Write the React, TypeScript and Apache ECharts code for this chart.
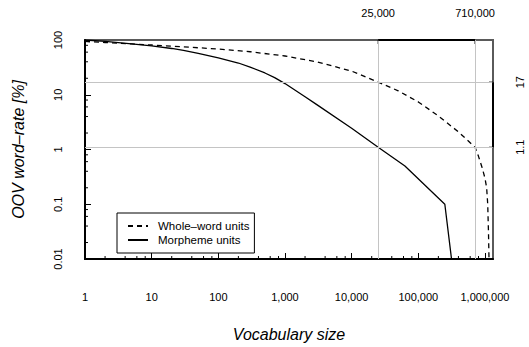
import React, { useEffect, useRef } from 'react';
import * as echarts from 'echarts';

// ---- data ----
const VOCAB_WHOLE = [1, 2, 5, 10, 30, 100, 300, 1000, 3000, 10000, 25000, 50000, 100000, 200000, 400000, 710000, 800000, 900000, 1000000, 1060000, 1100000, 1130000, 1150000];
const OOV_WHOLE = [94, 90, 85, 81, 75, 68.5, 61, 51, 40, 27, 17, 11.8, 7.4, 4.1, 2.1, 1.1, 0.75, 0.48, 0.3, 0.2, 0.1, 0.03, 0.01];

const VOCAB_MORPH = [1, 2, 5, 10, 20, 30, 50, 100, 200, 300, 500, 700, 1000, 2000, 3000, 10000, 25000, 63000, 250000, 315000];
const OOV_MORPH = [100, 94, 85, 78, 70, 64.5, 57, 47, 38, 32, 25, 20.5, 16, 9.2, 6.6, 2.45, 1.1, 0.5, 0.1, 0.01];

const SERIES_NAMES = ['Whole\u2013word units', 'Morpheme units'];

const REF_VOCAB = [25000, 710000];
const REF_OOV = [17, 1.1];

const X_MIN = 1;
const X_MAX = 1.32e6;
const Y_MIN = 0.01;
const Y_MAX = 100;
const MINOR_MULT = [2, 4, 6, 8];

const FONT = '"Liberation Sans", Arial, Helvetica, sans-serif';

function minorTicks(lo: number, hi: number): number[] {
  const out: number[] = [];
  for (let d = lo; d < hi; d *= 10) {
    for (const m of MINOR_MULT) {
      const v = d * m;
      if (v > lo && v < hi) out.push(v);
    }
  }
  return out;
}

export default function App() {
  const ref = useRef<HTMLDivElement>(null);
  useEffect(() => {
    if (!ref.current) return;
    const chart = echarts.init(ref.current, undefined, { renderer: 'svg' });
    const xMinor = minorTicks(X_MIN, X_MAX);
    const yMinor = minorTicks(Y_MIN, Y_MAX);
    const lineEl = (x1: number, y1: number, x2: number, y2: number, w = 1) => ({
      type: 'line',
      shape: { x1, y1, x2, y2 },
      style: { stroke: '#000', lineWidth: w },
    });
    const option: any = {
      animation: false,
      backgroundColor: '#fff',
      grid: {
        left: 85,
        right: 36,
        top: 40,
        bottom: 76,
        show: true,
        borderColor: '#5a5a5a',
        borderWidth: 2,
        backgroundColor: 'transparent',
      },
      legend: {
        data: SERIES_NAMES,
        orient: 'vertical',
        left: 117,
        top: 213,
        borderColor: '#000',
        borderWidth: 1,
        borderRadius: 0,
        padding: [7, 5, 7, 10],
        itemGap: 2,
        itemWidth: 20,
        itemHeight: 12,
        itemStyle: { opacity: 0 },
        textStyle: { fontSize: 11.5, fontFamily: FONT, color: '#000', padding: [0, 0, 0, 5] },
      },
      xAxis: {
        type: 'log',
        logBase: 10,
        min: X_MIN,
        max: X_MAX,
        name: 'Vocabulary size',
        nameLocation: 'middle',
        nameGap: 67,
        nameTextStyle: { fontSize: 16, fontStyle: 'italic', fontFamily: FONT, color: '#000' },
        axisLine: { show: true, onZero: false, lineStyle: { color: '#000', width: 2 } },
        axisTick: { show: true, inside: true, length: 6, lineStyle: { color: '#000', width: 1 } },
        axisLabel: {
          showMaxLabel: false,
          margin: 32,
          fontSize: 11,
          fontFamily: FONT,
          color: '#000',
          formatter: (v: number) => Math.round(v).toLocaleString('en-US'),
        },
        splitLine: { show: false },
      },
      yAxis: {
        type: 'log',
        logBase: 10,
        min: Y_MIN,
        max: Y_MAX,
        name: 'OOV word\u2013rate [%]',
        nameLocation: 'middle',
        nameGap: 59,
        nameTextStyle: { fontSize: 16, fontStyle: 'italic', fontFamily: FONT, color: '#000' },
        axisLine: { show: true, onZero: false, lineStyle: { color: '#000', width: 2 } },
        axisTick: { show: true, inside: true, length: 6, lineStyle: { color: '#000', width: 1 } },
        axisLabel: {
          rotate: 90,
          margin: 22,
          fontSize: 11,
          fontFamily: FONT,
          color: '#000',
          formatter: (v: number) => {
            const e = Math.round(Math.log10(v));
            const p = Math.pow(10, e);
            return e >= 0 ? String(p) : p.toFixed(-e);
          },
        },
        splitLine: { show: false },
      },
      series: [
        {
          // reference grid lines
          type: 'custom',
          name: 'refgrid',
          z: 1,
          silent: true,
          clip: false,
          data: [],
          renderItem: () => null,
          markLine: {
            silent: true,
            symbol: 'none',
            label: { show: false },
            lineStyle: { color: '#c4c4c4', width: 1, type: 'solid' },
            data: [
              ...REF_VOCAB.map((v) => ({ xAxis: v })),
              ...REF_OOV.map((v) => ({ yAxis: v })),
              [
                { coord: [REF_VOCAB[0], Y_MAX], lineStyle: { color: '#000', width: 2 } },
                { coord: [REF_VOCAB[1], Y_MAX] },
              ],
              [
                { coord: [X_MAX, REF_OOV[0]], lineStyle: { color: '#000', width: 2 } },
                { coord: [X_MAX, REF_OOV[1]] },
              ],
            ],
          },
        },
        {
          type: 'line',
          name: SERIES_NAMES[0],
          z: 3,
          data: VOCAB_WHOLE.map((x, i) => [x, OOV_WHOLE[i]]),
          showSymbol: false,
          symbol: 'none',
          lineStyle: { color: '#000', width: 1.3, type: [5, 4] },
          itemStyle: { color: '#000' },
        },
        {
          type: 'line',
          name: SERIES_NAMES[1],
          z: 3,
          data: VOCAB_MORPH.map((x, i) => [x, OOV_MORPH[i]]),
          showSymbol: false,
          symbol: 'none',
          lineStyle: { color: '#000', width: 1.3, type: 'solid' },
          itemStyle: { color: '#000' },
        },
        {
          type: 'custom',
          name: 'xminor',
          z: 4,
          silent: true,
          clip: false,
          data: xMinor.map((v) => [v, Y_MIN]),
          renderItem: (params: any, api: any) => {
            const p = api.coord([api.value(0), api.value(1)]);
            return lineEl(p[0], p[1], p[0], p[1] - 3);
          },
        },
        {
          type: 'custom',
          name: 'yminor',
          z: 4,
          silent: true,
          clip: false,
          data: yMinor.map((v) => [X_MIN, v]),
          renderItem: (params: any, api: any) => {
            const p = api.coord([api.value(0), api.value(1)]);
            return lineEl(p[0], p[1], p[0] + 3, p[1]);
          },
        },
        {
          type: 'custom',
          name: 'toplabels',
          z: 4,
          silent: true,
          clip: false,
          data: REF_VOCAB.map((v) => [v, Y_MAX]),
          renderItem: (params: any, api: any) => {
            const p = api.coord([api.value(0), api.value(1)]);
            return {
              type: 'group',
              children: [
                lineEl(p[0], p[1], p[0], p[1] + 4),
                {
                  type: 'text',
                  x: p[0],
                  y: p[1] - 27,
                  style: {
                    text: REF_VOCAB[params.dataIndex].toLocaleString('en-US'),
                    fill: '#000',
                    fontSize: 11,
                    fontFamily: FONT,
                    align: 'center',
                    verticalAlign: 'middle',
                  },
                },
              ],
            };
          },
        },
        {
          type: 'custom',
          name: 'rightlabels',
          z: 4,
          silent: true,
          clip: false,
          data: REF_OOV.map((v) => [X_MAX, v]),
          renderItem: (params: any, api: any) => {
            const p = api.coord([api.value(0), api.value(1)]);
            return {
              type: 'group',
              children: [
                lineEl(p[0], p[1], p[0] - 4, p[1]),
                {
                  type: 'text',
                  x: p[0] + 27,
                  y: p[1],
                  rotation: Math.PI / 2,
                  style: {
                    text: String(REF_OOV[params.dataIndex]),
                    fill: '#000',
                    fontSize: 11,
                    fontFamily: FONT,
                    align: 'center',
                    verticalAlign: 'middle',
                  },
                },
              ],
            };
          },
        },
      ],
    };
    chart.setOption(option);
    return () => chart.dispose();
  }, []);
  return (
    <div
      ref={ref}
      style={{ position: 'fixed', left: 0, top: 0, width: 529, height: 347, background: '#fff' }}
    />
  );
}
